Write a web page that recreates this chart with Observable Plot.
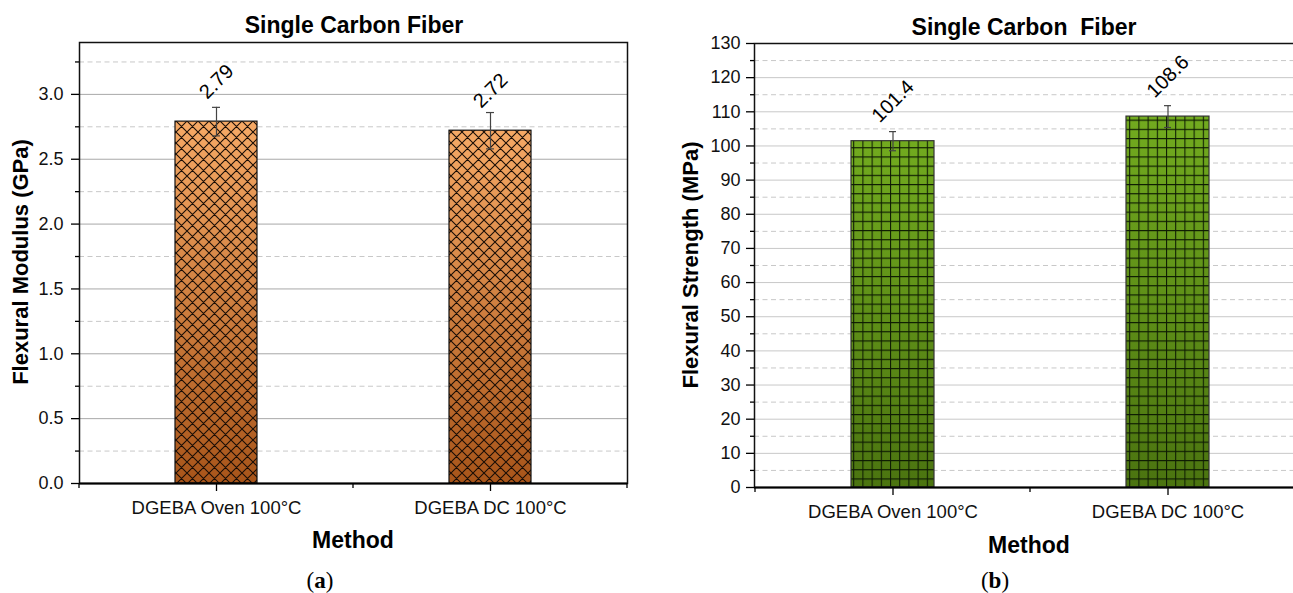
<!DOCTYPE html>
<html><head><meta charset="utf-8">
<script src="https://cdn.jsdelivr.net/npm/d3@7"></script>
<script src="https://cdn.jsdelivr.net/npm/@observablehq/plot@0.6"></script>
<style>
body{margin:0;background:#fff;overflow:hidden;}
#wrap{position:relative;width:1293px;height:593px;overflow:hidden;font-family:"Liberation Sans",Arial,sans-serif;color:#000;}
.t{position:absolute;white-space:nowrap;line-height:1;}
.box{position:absolute;top:0;}
.box svg{max-width:none !important;}
</style></head><body><div id="wrap"></div>
<script>
// ---------- data ----------
const methods = ["DGEBA Oven 100°C", "DGEBA DC 100°C"];
const modulus = [2.79, 2.72];
const modulusErr = [0.11, 0.14];
const modulusLabels = ["2.79", "2.72"];
const strength = [101.4, 108.6];
const strengthErr = [2.8, 3.2];
const strengthLabels = ["101.4", "108.6"];
const modulusTicks = [0, 0.5, 1.0, 1.5, 2.0, 2.5, 3.0];
const modulusMinor = [0.25, 0.75, 1.25, 1.75, 2.25, 2.75, 3.25];
const strengthTicks = [0, 10, 20, 30, 40, 50, 60, 70, 80, 90, 100, 110, 120, 130];
const strengthMinor = [5, 15, 25, 35, 45, 55, 65, 75, 85, 95, 105, 115, 125];
const titleA = "Single Carbon Fiber";
const titleB = "Single Carbon\u00a0 Fiber";
const yLabelA = "Flexural Modulus (GPa)";
const yLabelB = "Flexural Strength (MPa)";
const xLabel = "Method";

const wrap = document.getElementById("wrap");
const FONT = "Liberation Sans, Arial, sans-serif";

function rows(vals, errs, labels) {
  return methods.map((m, i) => ({method: m, value: vals[i], lo: vals[i] - errs[i], hi: vals[i] + errs[i], label: labels[i]}));
}

function midTicks(index, scales) {
  const x = scales.x, y = scales.y;
  const bw = x.bandwidth ? x.bandwidth() : 0;
  const y0 = y(0);
  const g = d3.create("svg:g").attr("stroke", "#000").attr("stroke-width", 1.3);
  const xs = [x(methods[0]), x(methods[1]), x(methods[1]) + bw];
  for (const xv of xs) g.append("line").attr("x1", xv).attr("x2", xv).attr("y1", y0).attr("y2", y0 + 5);
  return g.node();
}

function chart(opts) {
  const data = rows(opts.vals, opts.errs, opts.labels);
  const svg = Plot.plot({
    width: opts.width, height: 593,
    marginLeft: opts.marginLeft, marginRight: opts.marginRight,
    marginTop: opts.marginTop, marginBottom: opts.marginBottom,
    style: {fontFamily: FONT, background: "transparent", overflow: "visible", maxWidth: "none"},
    x: {domain: methods, padding: 0, axis: null},
    y: {domain: opts.domain, axis: null},
    marks: [
      Plot.gridY(opts.minor, {stroke: "#c8c8c8", strokeOpacity: 1, strokeWidth: 1, strokeDasharray: "5,3.5"}),
      Plot.gridY(opts.ticks.slice(1), {stroke: opts.gridColor, strokeOpacity: 1, strokeWidth: 1}),
      Plot.barY(data, {x: "method", y: "value", fill: `url(#${opts.grad})`, insetLeft: opts.inset, insetRight: opts.inset}),
      Plot.barY(data, {x: "method", y: "value", fill: `url(#${opts.pat})`, stroke: opts.barStroke, strokeWidth: 1.2, insetLeft: opts.inset, insetRight: opts.inset}),
      Plot.ruleX(data, {x: "method", y1: "lo", y2: "hi", stroke: "#444", strokeWidth: 1.2}),
      Plot.tickY(data, {x: "method", y: "hi", stroke: "#444", strokeWidth: 1.2, insetLeft: opts.capInset, insetRight: opts.capInset}),
      Plot.tickY(data, {x: "method", y: "lo", stroke: "#444", strokeWidth: 1.2, insetLeft: opts.capInset, insetRight: opts.capInset}),
      Plot.text(data, {x: "method", y: "value", text: "label", rotate: -45, dy: -40, fontSize: 20, fill: "#000", textAnchor: "middle"}),
      Plot.frame({stroke: "#111", strokeWidth: 1.5}),
      Plot.ruleY([0], {stroke: "#000", strokeWidth: 2}),
      Plot.axisY(opts.ticks, {tickSize: 8, tickPadding: opts.yPad, fontSize: 18, fill: "#111", stroke: "#000", strokeWidth: 1.3, label: null}),
      Plot.axisY(opts.minor, {tickSize: 4, text: null, stroke: "#000", strokeWidth: 1.3, label: null}),
      Plot.axisX(methods, {tickSize: 8, tickPadding: 9, fontSize: 18.5, fill: "#111", stroke: "#000", strokeWidth: 1.3, label: null}),
      midTicks
    ]
  });
  svg.style.maxWidth = "none";
  const defs = d3.select(svg).insert("defs", ":first-child");
  opts.defs(defs);
  const box = document.createElement("div");
  box.className = "box";
  box.style.left = opts.left + "px";
  box.style.width = opts.width + "px";
  box.appendChild(svg);
  wrap.appendChild(box);
}

function orangeDefs(defs) {
  const g = defs.append("linearGradient").attr("id", "gradA").attr("x1", 0).attr("y1", 0).attr("x2", 0).attr("y2", 1);
  g.append("stop").attr("offset", "0%").attr("stop-color", "#f6a965");
  g.append("stop").attr("offset", "100%").attr("stop-color", "#a8551a");
  const p = defs.append("pattern").attr("id", "patA").attr("patternUnits", "userSpaceOnUse").attr("width", 11).attr("height", 11);
  p.append("path").attr("d", "M0,0L11,11M11,0L0,11M-2,9L2,13M9,-2L13,2M-2,2L2,-2M9,13L13,9").attr("stroke", "#1a0d05").attr("stroke-width", 1.1).attr("fill", "none");
}
function greenDefs(defs) {
  const g = defs.append("linearGradient").attr("id", "gradB").attr("x1", 0).attr("y1", 0).attr("x2", 0).attr("y2", 1);
  g.append("stop").attr("offset", "0%").attr("stop-color", "#72ab1f");
  g.append("stop").attr("offset", "100%").attr("stop-color", "#4b7410");
  const p = defs.append("pattern").attr("id", "patB").attr("patternUnits", "userSpaceOnUse").attr("width", 9.2).attr("height", 9.2);
  p.append("path").attr("d", "M0,0.5H9.2M0.5,0V9.2").attr("stroke", "#0d1a02").attr("stroke-width", 1.1).attr("fill", "none");
}

chart({vals: modulus, errs: modulusErr, labels: modulusLabels, domain: [0, 3.4], ticks: modulusTicks, minor: modulusMinor,
  width: 640, left: 0, marginLeft: 79, marginRight: 13, marginTop: 42, marginBottom: 110, inset: 96, capInset: 133,
  gridColor: "#a8a8a8", grad: "gradA", pat: "patA", barStroke: "#111", yPad: 8, defs: orangeDefs});
chart({vals: strength, errs: strengthErr, labels: strengthLabels, domain: [0, 130], ticks: strengthTicks, minor: strengthMinor,
  width: 645, left: 660, marginLeft: 94, marginRight: 0, marginTop: 43, marginBottom: 106, inset: 96, capInset: 134,
  gridColor: "#c8c8c8", grad: "gradB", pat: "patB", barStroke: "#333", yPad: 6, defs: greenDefs});

// ---------- text ----------
function text(str, cx, baseline, size, weight, family, asc) {
  const d = document.createElement("div");
  d.className = "t";
  d.textContent = str;
  d.style.fontSize = size + "px";
  d.style.fontWeight = weight;
  if (family) d.style.fontFamily = family;
  d.style.left = cx + "px";
  d.style.top = (baseline - (asc || 0.8465) * size) + "px";
  d.style.transform = "translateX(-50%)";
  wrap.appendChild(d);
  return d;
}
function vtext(str, baselineX, cy, size) {
  const d = document.createElement("div");
  d.className = "t";
  d.textContent = str;
  d.style.fontSize = size + "px";
  d.style.fontWeight = "bold";
  const cx = baselineX - 0.3465 * size;
  d.style.left = cx + "px";
  d.style.top = cy + "px";
  d.style.transform = "translate(-50%,-50%) rotate(-90deg)";
  wrap.appendChild(d);
}
text(titleA, 354, 33.5, 23, "bold");
text(titleB, 1024, 35.5, 23, "bold");
text(xLabel, 353, 548, 23, "bold");
text(xLabel, 1029, 553, 23, "bold");
vtext(yLabelA, 29, 262, 22);
vtext(yLabelB, 699, 265, 22);
const ca = text("", 320, 588, 23, "normal", "Liberation Serif, serif", 0.8375);
ca.innerHTML = "(<b>a</b>)";
const cb = text("", 995, 588, 23, "normal", "Liberation Serif, serif", 0.8375);
cb.innerHTML = "(<b>b</b>)";
</script></body></html>
